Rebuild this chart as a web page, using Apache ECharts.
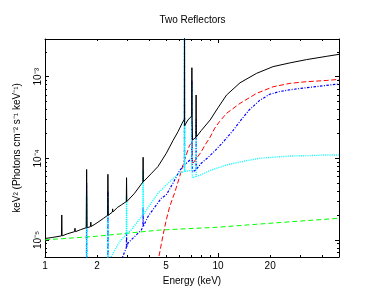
<!DOCTYPE html>
<html><head><meta charset="utf-8">
<script src="https://cdn.jsdelivr.net/npm/echarts@6/dist/echarts.min.js"></script>
<style>html,body{margin:0;padding:0;background:#fff}#c{width:385px;height:298px}</style>
</head><body><div id="c"></div>
<script>
// ---- axis ranges / tick labels ----
const xMin = 1, xMax = 50;
const yMin = 6.17e-6, yMax = 2.9e-3;
const xLabelValues = [1, 2, 5, 10, 20];
const xMajorTicks = [1, 10];
const xMinorTicks = [2, 3, 4, 5, 6, 7, 8, 9, 20, 30, 40];
const yLabelValues = [1e-5, 1e-4, 1e-3];
const yMajorTicks = [1e-5, 1e-4, 1e-3];
const yMinorTicks = [7e-6, 8e-6, 9e-6, 2e-5, 3e-5, 4e-5, 5e-5, 6e-5, 7e-5, 8e-5, 9e-5,
  2e-4, 3e-4, 4e-4, 5e-4, 6e-4, 7e-4, 8e-4, 9e-4, 2e-3];

// ---- total model (black) ----
const totalE = [1.0, 1.1, 1.245, 1.25, 1.255, 1.35, 1.48, 1.49, 1.5, 1.6, 1.73, 1.74, 1.75, 1.83, 1.84, 1.85,
  2.0, 2.18, 2.3, 2.31, 2.32, 2.45, 2.46, 2.47, 2.62, 2.76, 2.95, 2.96, 2.97, 3.29, 3.68, 3.69, 3.7,
  4.1, 4.49, 5.02, 5.5, 5.87, 6.2, 6.39, 6.4, 6.41, 6.7, 7.05, 7.06, 7.07, 7.1, 7.12, 7.46, 7.47, 7.48,
  8.0, 9.0, 10.0, 11.2, 13.4, 16.7, 20.8, 26.1, 32.4, 42.5, 50];
const totalF = [1.04e-5, 1.07e-5, 1.12e-5, 2.02e-5, 1.12e-5, 1.19e-5, 1.26e-5, 1.39e-5, 1.26e-5, 1.33e-5, 1.41e-5, 7.3e-5, 1.41e-5, 1.45e-5, 1.65e-5, 1.46e-5,
  1.62e-5, 1.84e-5, 2.0e-5, 6.37e-5, 2.0e-5, 2.19e-5, 2.4e-5, 2.2e-5, 2.5e-5, 2.68e-5, 2.95e-5, 5.78e-5, 2.95e-5, 3.72e-5, 5.13e-5, 1.03e-4, 5.15e-5,
  6.46e-5, 7.9e-5, 1.15e-4, 1.66e-4, 2.12e-4, 2.69e-4, 3.02e-4, 5e-3, 2.51e-4, 2.95e-4, 3.31e-4, 1.29e-3, 3.35e-4, 3.39e-4, 1.67e-4, 1.82e-4, 5.97e-4, 1.82e-4,
  2.19e-4, 2.95e-4, 4.17e-4, 5.97e-4, 8.43e-4, 1.10e-3, 1.33e-3, 1.48e-3, 1.62e-3, 1.78e-3, 1.88e-3];

// ---- reflector component (red) ----
const redE = [4.3, 4.55, 4.8, 5.02, 5.25, 5.6, 6.0, 6.4, 6.85, 7.1, 7.12, 7.5, 8.0, 8.4, 8.95, 9.57, 10.2, 11.2, 12.2, 13.4, 16.7, 20.8, 26.1, 32.4, 42.5, 50];
const redF = [3.4e-6, 6.2e-6, 1.12e-5, 1.75e-5, 2.55e-5, 3.72e-5, 5.96e-5, 9.55e-5, 1.45e-4, 1.58e-4, 8.5e-5, 1.0e-4, 1.2e-4, 1.45e-4, 1.78e-4, 2.34e-4, 2.82e-4, 3.56e-4, 4.07e-4, 4.72e-4, 6.25e-4, 7.53e-4, 8.3e-4, 8.69e-4, 9.0e-4, 9.29e-4];

// ---- reflector component (blue) ----
const blueE = [1.6, 1.73, 1.74, 1.75, 2.3, 2.31, 2.32, 2.6, 2.81, 2.95, 2.96, 2.97, 3.01, 3.6, 3.68, 3.69, 3.7, 3.93, 4.7, 5.02, 5.5, 6.0, 6.39, 6.4, 6.41,
  7.05, 7.06, 7.07, 7.1, 7.12, 7.46, 7.47, 7.48, 8.0, 8.74, 9.57, 10.7, 12.2, 13.4, 15.1, 17.4, 19.9, 22.8, 26.1, 32.4, 40.5, 50];
const blueF = [1e-7, 1e-7, 5e-5, 1e-7, 5e-7, 4e-5, 5e-7, 2.5e-6, 6.2e-6, 8e-6, 1.2e-5, 8.1e-6, 9.1e-6, 1.32e-5, 1.45e-5, 2.5e-5, 1.46e-5, 1.92e-5, 3.24e-5, 3.55e-5, 5.0e-5, 7.1e-5, 8.3e-5, 4e-3, 8.3e-5,
  1.0e-4, 9e-4, 1.0e-4, 1.0e-4, 6.85e-5, 7.2e-5, 3e-4, 7.3e-5, 8.7e-5, 1.02e-4, 1.23e-4, 1.58e-4, 2.19e-4, 2.85e-4, 3.89e-4, 5.13e-4, 6.1e-4, 6.6e-4, 6.92e-4, 7.33e-4, 7.76e-4, 8.13e-4];

// ---- reflector component (cyan) ----
const cyanE = [1.6, 1.73, 1.74, 1.75, 2.2, 2.3, 2.31, 2.32, 2.41, 2.7, 2.95, 2.96, 2.97, 3.15, 3.68, 3.69, 3.7, 3.76, 4.49, 5.25, 6.0, 6.39, 6.4, 6.41,
  7.05, 7.06, 7.07, 7.1, 7.12, 7.46, 7.47, 7.48, 8.0, 9.0, 11.2, 14.0, 17.4, 21.8, 27.2, 34, 42.5, 50];
const cyanF = [1e-7, 1.5e-7, 3.5e-5, 1.6e-7, 3.2e-6, 4.5e-6, 3.2e-5, 4.6e-6, 6.2e-6, 9.5e-6, 1.17e-5, 3.5e-5, 1.18e-5, 1.32e-5, 2.04e-5, 7.2e-5, 2.05e-5, 2.12e-5, 3.72e-5, 5.16e-5, 6.6e-5, 6.9e-5, 4e-3, 6.9e-5,
  7.1e-5, 8e-4, 7.1e-5, 7.1e-5, 5.75e-5, 6.0e-5, 2e-4, 6.0e-5, 6.3e-5, 7.1e-5, 8.28e-5, 9.2e-5, 1.0e-4, 1.04e-4, 1.07e-4, 1.08e-4, 1.1e-4, 1.1e-4];

// ---- power law (green) ----
const greenE = [1, 2, 4.6, 10, 20, 50];
const greenF = [1.0e-5, 1.11e-5, 1.32e-5, 1.43e-5, 1.6e-5, 1.84e-5];

const FF = "'Liberation Sans', Arial, Helvetica, sans-serif";
const LX = v => Math.log10(v);
const SUP = {'-': '\u207B', '0': '\u2070', '1': '\u00B9', '2': '\u00B2', '3': '\u00B3', '4': '\u2074', '5': '\u2075', '6': '\u2076'};
const supStr = s => String(s).split('').map(c => SUP[c]).join('');
const pts = (E, F) => E.map((e, i) => [LX(e), LX(F[i])]);

function xAx(position, ticks, len, showLine, labels, extra) {
  return Object.assign({
    type: 'value', position: position, min: LX(xMin), max: LX(xMax),
    axisLine: {show: showLine, onZero: false, lineStyle: {color: '#000', width: 1}},
    axisTick: {show: true, inside: true, length: len, customValues: ticks.map(LX), lineStyle: {color: '#000', width: 1}},
    axisLabel: labels ? {show: true, customValues: labels.map(LX), hideOverlap: false,
      formatter: v => String(Math.round(Math.pow(10, v))), color: '#000', fontSize: 10, fontFamily: FF, margin: 4} : {show: false},
    splitLine: {show: false}, minorTick: {show: false}
  }, extra || {});
}
function yAx(position, ticks, len, showLine, labels, extra) {
  return Object.assign({
    type: 'value', position: position, min: LX(yMin), max: LX(yMax),
    axisLine: {show: showLine, onZero: false, lineStyle: {color: '#000', width: 1}},
    axisTick: {show: true, inside: true, length: len, customValues: ticks.map(LX), lineStyle: {color: '#000', width: 1}},
    axisLabel: labels ? {show: true, customValues: labels.map(LX), hideOverlap: false, rotate: 90,
      formatter: v => '10' + supStr(Math.round(v)), color: '#000', fontSize: 10, fontFamily: FF, margin: 2} : {show: false},
    splitLine: {show: false}, minorTick: {show: false}
  }, extra || {});
}

const chart = echarts.init(document.getElementById('c'), null, {renderer: 'canvas'});
chart.setOption({
  animation: false,
  backgroundColor: '#fff',
  title: {text: 'Two Reflectors', left: 'center', top: 15.5, padding: 0,
    textStyle: {fontSize: 10, fontWeight: 'normal', color: '#000', fontFamily: FF}},
  grid: {left: 45, right: 46, top: 39, bottom: 41, containLabel: false},
  xAxis: [
    xAx('bottom', xMajorTicks, 4, true, xLabelValues, {name: 'Energy (keV)', nameLocation: 'middle', nameGap: 13,
      nameTextStyle: {fontSize: 10, color: '#000', fontFamily: FF}}),
    xAx('bottom', xMinorTicks, 2, false, null),
    xAx('top', xMajorTicks, 4, true, null),
    xAx('top', xMinorTicks, 2, false, null)
  ],
  yAxis: [
    yAx('left', yMajorTicks, 4, true, yLabelValues, {name: 'keV\u00B2 (Photons cm\u207B\u00B2 s\u207B\u00B9 keV\u207B\u00B9)',
      nameLocation: 'middle', nameGap: 23, nameTextStyle: {fontSize: 10, color: '#000', fontFamily: FF}}),
    yAx('left', yMinorTicks, 2, false, null),
    yAx('right', yMajorTicks, 4, true, null),
    yAx('right', yMinorTicks, 2, false, null)
  ],
  series: [
    {type: 'line', data: pts(greenE, greenF), showSymbol: false, symbol: 'none', clip: true,
      lineStyle: {color: '#00ff00', width: 1, type: [5, 3]}},
    {type: 'line', data: pts(redE, redF), showSymbol: false, symbol: 'none', clip: true,
      lineStyle: {color: '#ff0000', width: 1, type: [5, 2.5]}},
    {type: 'line', data: pts(blueE, blueF), showSymbol: false, symbol: 'none', clip: true,
      lineStyle: {color: '#0000ff', width: 1.2, type: [2.5, 1.5, 1, 1.5]}},
    {type: 'line', data: pts(cyanE, cyanF), showSymbol: false, symbol: 'none', clip: true,
      lineStyle: {color: '#00ffff', width: 1.4, type: [1, 1.2]}},
    {type: 'line', data: pts(totalE, totalF), showSymbol: false, symbol: 'none', clip: true,
      lineStyle: {color: '#000000', width: 1}}
  ]
});
</script></body></html>
